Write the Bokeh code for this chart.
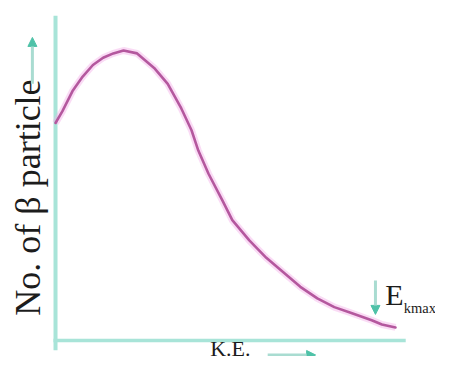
import math
from bokeh.plotting import figure
from bokeh.models import Range1d, Arrow, NormalHead
from bokeh.core.properties import value
from bokeh.embed import file_html
from bokeh.resources import INLINE

# Kinetic energy (fraction of E_kmax) and relative number of beta particles
ke = [0.0, 0.02, 0.05, 0.08, 0.11, 0.14, 0.17, 0.20, 0.24, 0.29, 0.33, 0.37,
      0.40, 0.42, 0.45, 0.49, 0.52, 0.57, 0.62, 0.67, 0.72, 0.77, 0.82, 0.87,
      0.93, 0.96, 1.0]
count = [75, 79, 86, 91, 95, 97.5, 99, 100, 99, 94, 88.5, 80,
         72.5, 65.5, 57.5, 48.5, 41.5, 34.5, 28.5, 23.5, 18.5, 14.5, 11.5, 9.5,
         7, 5.5, 4.5]

x_label = "K.E."
y_label = "No. of \u03b2 particle"
emax_label = "E"
emax_sub = "kmax"

AXIS = "#a8e4d8"
ARROW_LINE = "#a9dcd1"
ARROW_HEAD = "#4fc2a8"
CURVE = "#b4589e"
HALO = "#f5b0e8"
TEXT = "#1c1c1c"
FONT = value("Liberation Serif")

p = figure(width=435, height=356, output_backend="svg", toolbar_location=None,
           x_range=Range1d(-0.1618, 1.1176), y_range=Range1d(-5.52, 117.24),
           x_axis_type=None, y_axis_type=None, min_border=0,
           outline_line_color=None)
p.background_fill_color = "white"
p.border_fill_color = "white"

# axes
p.line([0, 0], [-3.4, 112], line_color=AXIS, line_width=4)
p.line([-0.006, 1.03], [0, 0], line_color=AXIS, line_width=3.5)

# curve
p.line(ke, count, line_color=HALO, line_width=7, line_alpha=0.45)
p.line(ke, count, line_color=CURVE, line_width=2.6, line_cap="round")

# arrows
def arrow(xs, ys, xe, ye):
    p.add_layout(Arrow(end=NormalHead(size=9, fill_color=ARROW_HEAD,
                                      line_color=ARROW_HEAD),
                       x_start=xs, y_start=ys, x_end=xe, y_end=ye,
                       line_color=ARROW_LINE, line_width=3))

arrow(-0.068, 88.5, -0.068, 104.5)     # y-axis label arrow
arrow(0.624, -5.0, 0.765, -5.0)        # x-axis label arrow
arrow(0.941, 20.7, 0.941, 9.0)         # E_kmax marker

# texts
p.text(x=[-0.081], y=[49.3], text=[y_label], angle=math.pi / 2,
       text_font=FONT, text_font_size="36px", text_color=TEXT,
       text_align="center", text_baseline="middle")
p.text(x=[0.455], y=[-2.93], text=[x_label],
       text_font=FONT, text_font_size="22px", text_color=TEXT,
       text_align="left", text_baseline="middle")
p.text(x=[0.97], y=[16.03], text=[emax_label],
       text_font=FONT, text_font_size="30px", text_color=TEXT,
       text_align="left", text_baseline="middle")
p.text(x=[1.024], y=[11.34], text=[emax_sub],
       text_font=FONT, text_font_size="14.5px", text_color=TEXT,
       text_align="left", text_baseline="middle")

open("out.html", "w").write(file_html(p, INLINE))
